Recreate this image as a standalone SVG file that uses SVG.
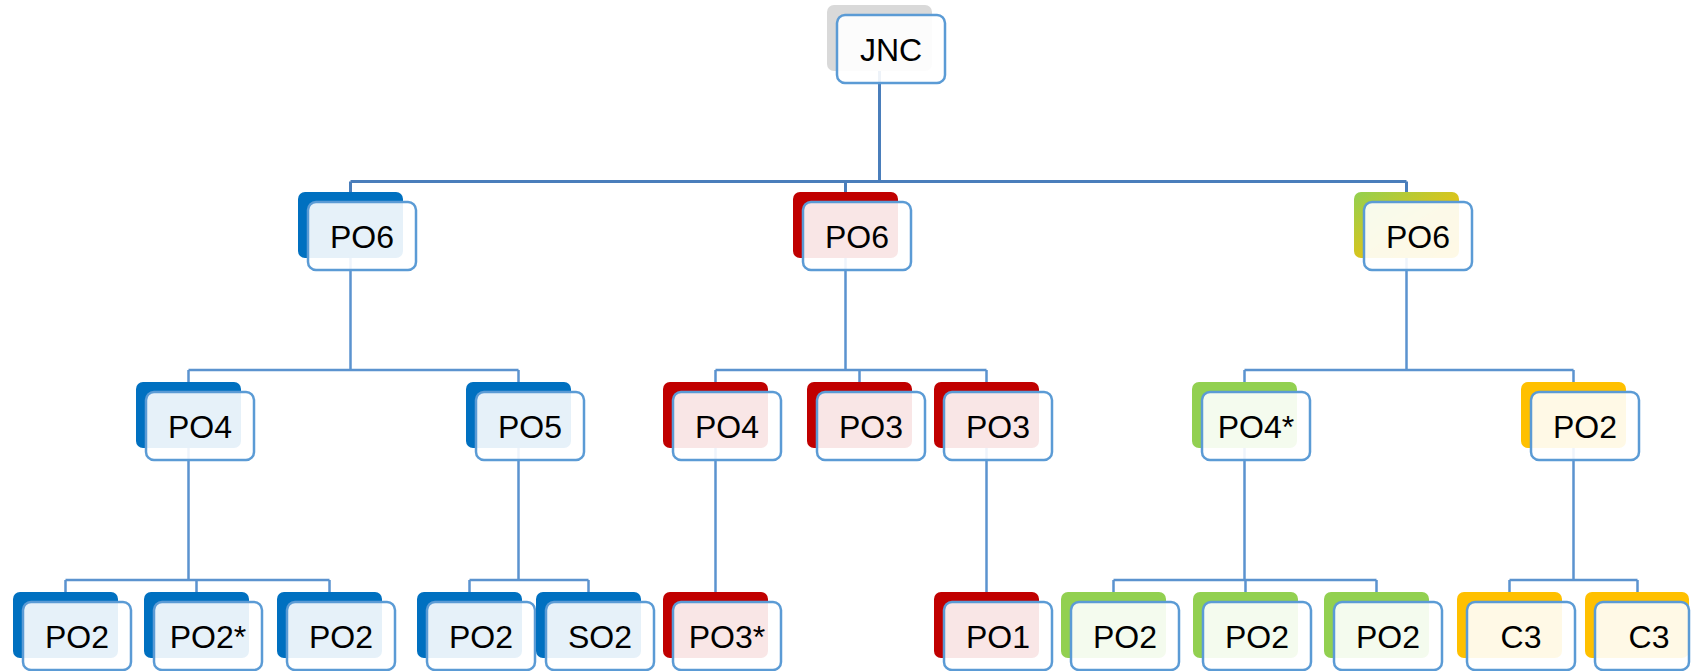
<svg xmlns="http://www.w3.org/2000/svg" width="1691" height="671" viewBox="0 0 1691 671">
<defs>
<linearGradient id="gy" x1="0" y1="0" x2="1" y2="1">
<stop offset="0" stop-color="#92D050"/>
<stop offset="0.55" stop-color="#DCC41A"/>
<stop offset="1" stop-color="#F4C000"/>
</linearGradient>
</defs>
<style>
.back{rx:7px;ry:7px}
.blue{fill:#0070C0}
.red{fill:#C00000}
.green{fill:#92D050}
.yellow{fill:#FFC000}
.gray{fill:#D9D9D9}
.grad{fill:url(#gy)}
.front{fill:#FFFFFF;fill-opacity:0.9;stroke:#5B9BD5;stroke-width:2.5;rx:8px;ry:8px}
text{font-family:"Liberation Sans",Arial,sans-serif;font-size:32px;fill:#000;text-anchor:middle}
.c1{fill:none;stroke:#4A7EBB;stroke-width:3}
.c2{fill:none;stroke:#5B93CF;stroke-width:2.5}
</style>
<rect width="1691" height="671" fill="#FFFFFF"/>
<g id="connectors">
<path class="c1" d="M879.5 71V181.5M350.5 181.5H1406.5M350.5 181.5V192M845.5 181.5V192M1406.5 181.5V192"/>
<path class="c2" d="M350.5 258V370M188.5 370H518.5M188.5 370V382M518.5 370V382"/>
<path class="c2" d="M845.5 258V370M715.5 370H986.5M715.5 370V382M859.5 370V382M986.5 370V382"/>
<path class="c2" d="M1406.5 258V370M1244.5 370H1573.5M1244.5 370V382M1573.5 370V382"/>
<path class="c2" d="M188.5 448V580M65.5 580H329.5M65.5 580V592M196.5 580V592M329.5 580V592"/>
<path class="c2" d="M518.5 448V580M469.5 580H588.5M469.5 580V592M588.5 580V592"/>
<path class="c2" d="M715.5 448V592"/>
<path class="c2" d="M986.5 448V592"/>
<path class="c2" d="M1244.5 448V580M1113.5 580H1376.5M1113.5 580V592M1245.5 580V592M1376.5 580V592"/>
<path class="c2" d="M1573.5 448V580M1509.5 580H1637.5M1509.5 580V592M1637.5 580V592"/>
</g>
<g id="n-jnc"><rect class="back gray" x="827" y="5" width="105" height="66"/><rect class="front" x="837" y="15" width="108" height="68"/><text x="891" y="60.5">JNC</text></g>
<g id="n-po6-blue"><rect class="back blue" x="298" y="192" width="105" height="66"/><rect class="front" x="308" y="202" width="108" height="68"/><text x="362" y="247.5">PO6</text></g>
<g id="n-po6-red"><rect class="back red" x="793" y="192" width="105" height="66"/><rect class="front" x="803" y="202" width="108" height="68"/><text x="857" y="247.5">PO6</text></g>
<g id="n-po6-green"><rect class="back grad" x="1354" y="192" width="105" height="66"/><rect class="front" x="1364" y="202" width="108" height="68"/><text x="1418" y="247.5">PO6</text></g>
<g id="n-po4-blue"><rect class="back blue" x="136" y="382" width="105" height="66"/><rect class="front" x="146" y="392" width="108" height="68"/><text x="200" y="437.5">PO4</text></g>
<g id="n-po5-blue"><rect class="back blue" x="466" y="382" width="105" height="66"/><rect class="front" x="476" y="392" width="108" height="68"/><text x="530" y="437.5">PO5</text></g>
<g id="n-po4-red"><rect class="back red" x="663" y="382" width="105" height="66"/><rect class="front" x="673" y="392" width="108" height="68"/><text x="727" y="437.5">PO4</text></g>
<g id="n-po3-red-a"><rect class="back red" x="807" y="382" width="105" height="66"/><rect class="front" x="817" y="392" width="108" height="68"/><text x="871" y="437.5">PO3</text></g>
<g id="n-po3-red-b"><rect class="back red" x="934" y="382" width="105" height="66"/><rect class="front" x="944" y="392" width="108" height="68"/><text x="998" y="437.5">PO3</text></g>
<g id="n-po4s-green"><rect class="back green" x="1192" y="382" width="105" height="66"/><rect class="front" x="1202" y="392" width="108" height="68"/><text x="1256" y="437.5">PO4*</text></g>
<g id="n-po2-yellow"><rect class="back yellow" x="1521" y="382" width="105" height="66"/><rect class="front" x="1531" y="392" width="108" height="68"/><text x="1585" y="437.5">PO2</text></g>
<g id="n-po2-b1"><rect class="back blue" x="13" y="592" width="105" height="66"/><rect class="front" x="23" y="602" width="108" height="68"/><text x="77" y="647.5">PO2</text></g>
<g id="n-po2s-b2"><rect class="back blue" x="144" y="592" width="105" height="66"/><rect class="front" x="154" y="602" width="108" height="68"/><text x="208" y="647.5">PO2*</text></g>
<g id="n-po2-b3"><rect class="back blue" x="277" y="592" width="105" height="66"/><rect class="front" x="287" y="602" width="108" height="68"/><text x="341" y="647.5">PO2</text></g>
<g id="n-po2-b4"><rect class="back blue" x="417" y="592" width="105" height="66"/><rect class="front" x="427" y="602" width="108" height="68"/><text x="481" y="647.5">PO2</text></g>
<g id="n-so2-b5"><rect class="back blue" x="536" y="592" width="105" height="66"/><rect class="front" x="546" y="602" width="108" height="68"/><text x="600" y="647.5">SO2</text></g>
<g id="n-po3s-red"><rect class="back red" x="663" y="592" width="105" height="66"/><rect class="front" x="673" y="602" width="108" height="68"/><text x="727" y="647.5">PO3*</text></g>
<g id="n-po1-red"><rect class="back red" x="934" y="592" width="105" height="66"/><rect class="front" x="944" y="602" width="108" height="68"/><text x="998" y="647.5">PO1</text></g>
<g id="n-po2-g1"><rect class="back green" x="1061" y="592" width="105" height="66"/><rect class="front" x="1071" y="602" width="108" height="68"/><text x="1125" y="647.5">PO2</text></g>
<g id="n-po2-g2"><rect class="back green" x="1193" y="592" width="105" height="66"/><rect class="front" x="1203" y="602" width="108" height="68"/><text x="1257" y="647.5">PO2</text></g>
<g id="n-po2-g3"><rect class="back green" x="1324" y="592" width="105" height="66"/><rect class="front" x="1334" y="602" width="108" height="68"/><text x="1388" y="647.5">PO2</text></g>
<g id="n-c3-y1"><rect class="back yellow" x="1457" y="592" width="105" height="66"/><rect class="front" x="1467" y="602" width="108" height="68"/><text x="1521" y="647.5">C3</text></g>
<g id="n-c3-y2"><rect class="back yellow" x="1585" y="592" width="104" height="66"/><rect class="front" x="1595" y="602" width="94" height="68"/><text x="1649" y="647.5">C3</text></g>
</svg>
